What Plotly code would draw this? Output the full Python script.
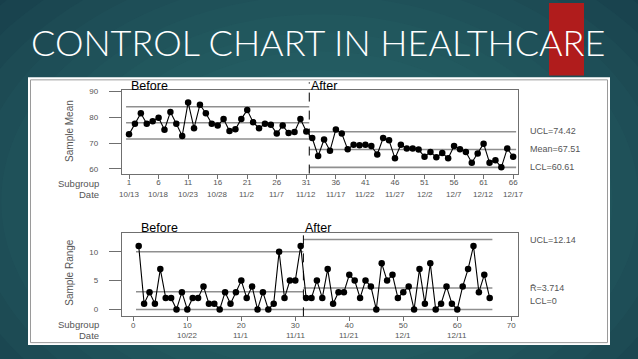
import plotly.graph_objects as go

W, H = 638, 359

# ---------------- data ----------------
subgroups = list(range(1, 67))
sample_mean = [73.4, 77.5, 81.6, 77.5, 78.5, 79.8, 75.2, 82.1, 77.5, 72.8,
               85.8, 75.8, 84.9, 81.6, 77.5, 76.8, 79.4, 74.7, 75.4, 79.4,
               82.8, 78.1, 75.8, 77.5, 77.1, 73.7, 76.8, 73.9, 74.3, 79.4,
               74.5, 72.0, 65.0, 71.4, 67.0, 75.3, 73.7, 67.6, 69.4, 69.2,
               69.4, 68.9, 65.6, 72.0, 71.1, 64.1, 69.4, 67.9, 67.9, 67.5,
               64.7, 66.6, 64.5, 66.2, 64.1, 68.9, 67.6, 66.6, 62.4, 66.0,
               69.8, 62.4, 63.4, 60.6, 67.9, 64.7]
sample_range = [11, 1, 3, 1, 7, 2, 2, 0, 3, 0, 2, 2, 4, 1, 1, 0, 3, 1, 3, 5,
                2, 4, 0, 3, 0, 1, 10, 2, 5, 5, 11,
                2, 2, 5, 2, 7, 1, 3, 3, 6, 5, 2, 5, 4, 0, 8, 5, 6, 2, 3,
                4, 0, 7, 1, 8, 0, 1, 4, 1, 0, 4, 7, 11, 3, 6, 2]

mean_before_limits = [84.1, 77.9, 71.6]      # UCL, CL, LCL
mean_after_limits = [74.42, 67.51, 60.61]
range_before_limits = [10.0, 3.06, 0.0]
range_after_limits = [12.14, 3.714, 0.0]
phase_split = 31.5
phase_before_span = [0.5, 31.5]
phase_after_span = [31.5, 66.5]

mean_tickvals = [1, 6, 11, 16, 21, 26, 31, 36, 41, 46, 51, 56, 61, 66]
mean_dates = ["10/13", "10/18", "10/23", "10/28", "11/2", "11/7", "11/12",
              "11/17", "11/22", "11/27", "12/2", "12/7", "12/12", "12/17"]
range_tickvals = [0, 10, 20, 30, 40, 50, 60, 70]
range_date_pos = [10, 20, 30, 40, 50, 60]
range_dates = ["10/22", "11/1", "11/11", "11/21", "12/1", "12/11"]

mean_labels = ["UCL=74.42", "Mean=67.51", "LCL=60.61"]
range_labels = ["UCL=12.14", "R\u0304=3.714", "LCL=0"]


def px(x):
    return x / W


def py(y):
    return 1 - y / H


FONT = "Liberation Sans"
GRAY_TXT = "#555555"
REF_COL = "#8f8f8f"
BOX_COL = "#6f6f6f"

fig = go.Figure()

# reference lines (drawn as traces from the limit arrays)
for lims, span, xa, ya in [
    (mean_before_limits, phase_before_span, "x", "y"),
    (mean_after_limits, phase_after_span, "x", "y"),
    (range_before_limits, phase_before_span, "x2", "y2"),
    (range_after_limits, phase_after_span, "x2", "y2"),
]:
    for v in lims:
        fig.add_trace(go.Scatter(x=span, y=[v, v], mode="lines",
                                 line=dict(color=REF_COL, width=1.6),
                                 xaxis=xa, yaxis=ya, hoverinfo="skip",
                                 showlegend=False))

fig.add_trace(go.Scatter(x=subgroups, y=sample_mean, mode="lines+markers",
                         line=dict(color="black", width=1.1),
                         marker=dict(color="black", size=6.5),
                         xaxis="x", yaxis="y", showlegend=False))
fig.add_trace(go.Scatter(x=subgroups, y=sample_range, mode="lines+markers",
                         line=dict(color="black", width=1.1),
                         marker=dict(color="black", size=6.5),
                         xaxis="x2", yaxis="y2", showlegend=False))

shapes = []
# background radial glow
shapes.append(dict(type="rect", xref="paper", yref="paper", x0=0, x1=1, y0=0, y1=1,
                   fillcolor="#153b48", line_width=0, layer="below"))
cx, cy = 320, 200
n = 16
for i in range(n):
    f = 1 - i / n
    rx, ry = 30 + 420 * f, 20 + 300 * f
    shapes.append(dict(type="circle", xref="paper", yref="paper",
                       x0=px(cx - rx), x1=px(cx + rx), y0=py(cy + ry), y1=py(cy - ry),
                       fillcolor="#3f827c", opacity=0.07, line_width=0, layer="below"))
# red accent
shapes.append(dict(type="rect", xref="paper", yref="paper", x0=px(549), x1=px(584),
                   y0=py(73), y1=py(0), fillcolor="#b01c1c", line_width=0, layer="below"))
# white panel
shapes.append(dict(type="rect", xref="paper", yref="paper", x0=px(28), x1=px(610),
                   y0=py(345), y1=py(75), fillcolor="white", line_width=0, layer="below"))
shapes.append(dict(type="rect", xref="paper", yref="paper", x0=px(30.5), x1=px(607.5),
                   y0=py(342.5), y1=py(77.5), fillcolor="rgba(0,0,0,0)",
                   line=dict(color="#9a9a9a", width=1), layer="below"))
# phase split dashed lines
shapes.append(dict(type="line", xref="x", yref="paper", x0=phase_split, x1=phase_split,
                   y0=py(172), y1=py(80), line=dict(color="black", width=1, dash="dash")))
shapes.append(dict(type="line", xref="x2", yref="paper", x0=phase_split, x1=phase_split,
                   y0=py(316), y1=py(226), line=dict(color="black", width=1, dash="dash")))

ann = []
ann.append(dict(text="CONTROL CHART IN HEALTHCARE", x=px(318), y=py(39), xref="paper",
                yref="paper", showarrow=False, xanchor="center", yanchor="middle",
                font=dict(family="Lato", size=36, color="white", weight=300)))


def txt(t, x, y, size=9, color=GRAY_TXT, xanchor="left", angle=0, xref="paper"):
    ann.append(dict(text=t, x=(px(x) if xref == "paper" else x), y=py(y), xref=xref,
                    yref="paper", showarrow=False, xanchor=xanchor, yanchor="middle",
                    textangle=angle, font=dict(family=FONT, size=size, color=color)))


txt("Before", 129, 84, size=12.5, color="black")
txt("After", 309, 84, size=12.5, color="black")
txt("Before", 139, 227, size=12.5, color="black")
txt("After", 303, 227, size=12.5, color="black")
txt("Subgroup", 101, 182, size=9.5, xanchor="right")
txt("Date", 101, 193, size=9.5, xanchor="right")
txt("Subgroup", 101, 324.5, size=9.5, xanchor="right")
txt("Date", 101, 335.5, size=9.5, xanchor="right")
txt("Sample Mean", 70, 129, size=10, xanchor="center", angle=-90)
txt("Sample Range", 70, 272, size=10, xanchor="center", angle=-90)
for lab, yy in zip(mean_labels, [129.5, 147.5, 165]):
    txt(lab, 528, yy, size=9)
for lab, yy in zip(range_labels, [238.5, 287, 300.5]):
    txt(lab, 528, yy, size=9)
for v, d in zip(mean_tickvals, mean_dates):
    txt(d, v, 193, size=8, xanchor="center", xref="x")
for v, d in zip(range_date_pos, range_dates):
    txt(d, v, 335.5, size=8, xanchor="center", xref="x2")

tickfont = dict(family=FONT, size=8, color=GRAY_TXT)
common_axis = dict(showgrid=False, zeroline=False, showline=True, mirror=True,
                   linecolor=BOX_COL, linewidth=1, ticks="outside", tickcolor=BOX_COL,
                   tickfont=tickfont)

fig.update_layout(
    width=W, height=H, margin=dict(l=0, r=0, t=0, b=0),
    paper_bgcolor="#153b48", plot_bgcolor="white",
    shapes=shapes, annotations=ann, showlegend=False,
    xaxis=dict(domain=[px(121.7), px(518.3)], range=[-0.24, 66.87], anchor="y",
               tickvals=mean_tickvals, ticklen=4, ticklabelstandoff=-3, **common_axis),
    yaxis=dict(domain=[py(172), py(88)], range=[58.2, 90.5], anchor="x",
               tickvals=[60, 70, 80, 90], ticklen=12, ticklabelstandoff=9, **common_axis),
    xaxis2=dict(domain=[px(121.7), px(518.3)], range=[-2.15, 71.3], anchor="y2",
                tickvals=range_tickvals, ticklen=4, ticklabelstandoff=-3, **common_axis),
    yaxis2=dict(domain=[py(316), py(231.7)], range=[-1.2, 13.3], anchor="x2",
                tickvals=[0, 5, 10], ticklen=12, ticklabelstandoff=9, **common_axis),
)

fig.write_html("out.html", post_script="document.body.style.margin='0';",
               config={"displayModeBar": False})
